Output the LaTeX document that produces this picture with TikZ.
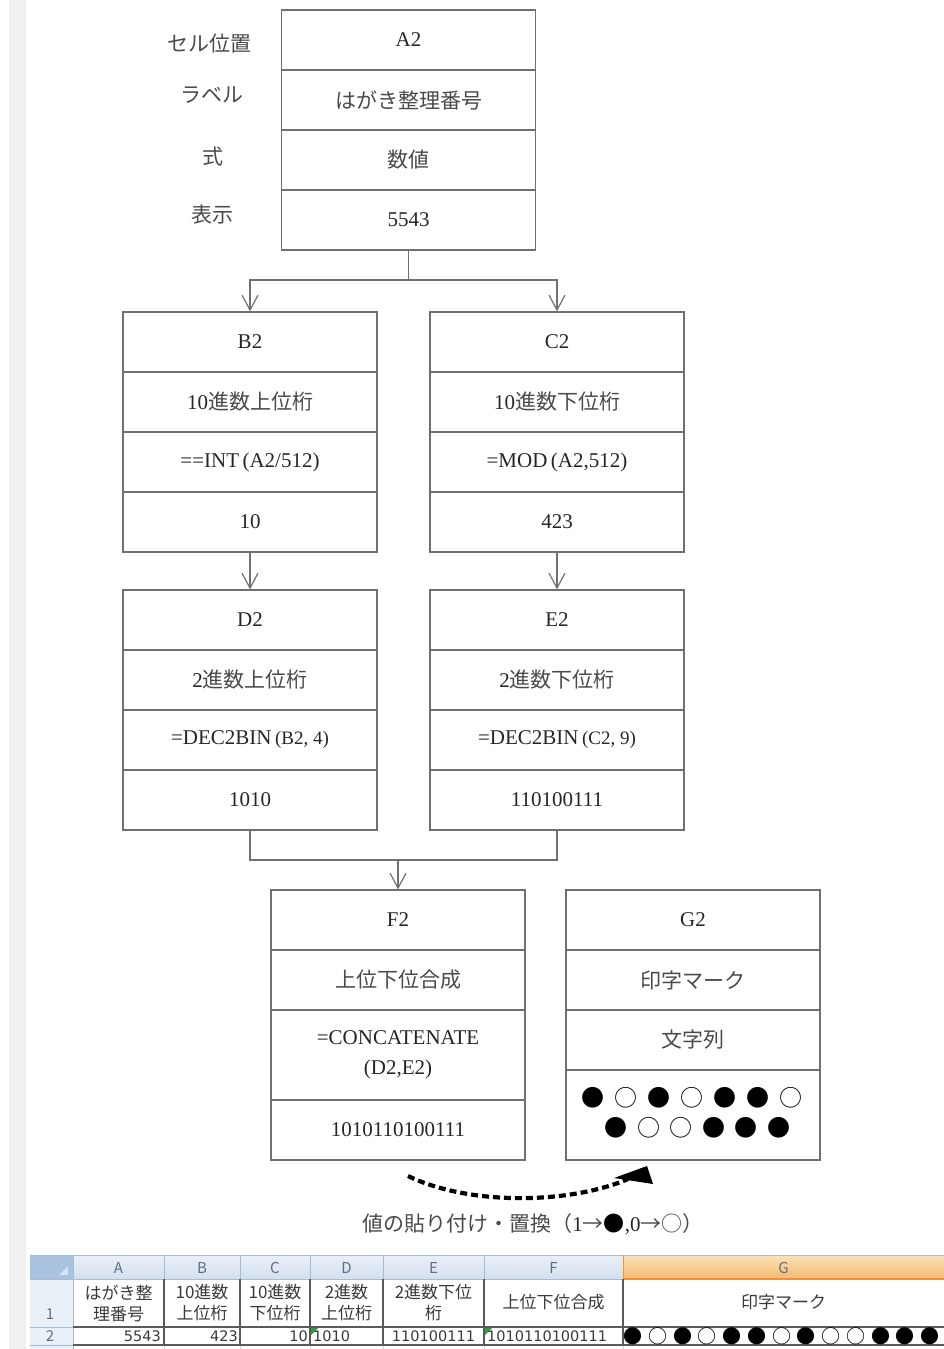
\documentclass[tikz,border=0pt]{standalone}
\usepackage{fontspec}
\setmainfont{Liberation Serif}
\newfontfamily\jp{Noto Sans CJK JP}
\newfontfamily\dv{DejaVu Sans}
\usetikzlibrary{arrows.meta,calc}
\definecolor{linec}{HTML}{707070}
\definecolor{txt}{HTML}{262626}
\definecolor{jptxt}{HTML}{4A4A4A}
\definecolor{strip}{HTML}{F0F0F0}
\definecolor{hdrA}{HTML}{EAF0F8}
\definecolor{hdrB}{HTML}{D3DFEE}
\definecolor{hdrline}{HTML}{A5BCD5}
\definecolor{corner}{HTML}{A9C2E0}
\definecolor{orangeA}{HTML}{FCE1B8}
\definecolor{orangeB}{HTML}{F4BA72}
\definecolor{orangeLine}{HTML}{F29436}
\definecolor{sstxt}{HTML}{3A3A3A}
\definecolor{colhdr}{HTML}{5E6E84}
\definecolor{cellb}{HTML}{5A5A5A}
\definecolor{xlgreen}{HTML}{2E9E3E}
\newcommand\latf{\fontsize{21}{25}\selectfont}
\newcommand\jpf{\jp\fontsize{21}{25}\selectfont\color{jptxt}}
\newcommand\cb[2]{\makebox[#1]{#2}}
\begin{document}
\begin{tikzpicture}[x=1pt,y=-1pt,
  cell/.style={draw=linec, line width=1.2pt, minimum width=254pt, minimum height=60pt,
    inner sep=0pt, align=center, text=txt, font=\latf},
  lbl/.style={inner sep=0pt, font=\jpf},
  arr/.style={draw=linec, line width=1.2pt, -{Straight Barb[length=15pt,width=16pt]}},
  conn/.style={draw=linec, line width=1.2pt},
  pastearr/.style={draw=black, line width=4.2pt, dash pattern=on 7pt off 4pt},
  sst/.style={inner sep=0pt, font=\jp\fontsize{17}{21}\selectfont, text=sstxt, align=center},
  colh/.style={inner sep=0pt, font=\jp\fontsize{15}{16}\selectfont, text=colhdr},
  val/.style={inner sep=0pt, font=\dv\fontsize{14.5}{16}\selectfont, text=sstxt}
]
\useasboundingbox (0,0) rectangle (944,1349);
\fill[white] (0,0) rectangle (944,1349);
\fill[strip] (9,0) rectangle (26,1349);

% left labels
\node[lbl] (lcell) at (209,44) {セル位置};
\node[lbl] (llabel) at (212,95) {ラベル};
\node[lbl] (lexpr) at (213,157) {式};
\node[lbl] (lshow) at (212,215) {表示};

% A2
\node[cell] (a1) at (408.5,40) {A2};
\node[cell] (a2) at (408.5,100) {\jpf はがき整理番号};
\node[cell] (a3) at (408.5,160) {\jpf 数値};
\node[cell] (a4) at (408.5,220) {5543};

% B2
\node[cell] (b1) at (250,342) {B2};
\node[cell] (b2) at (250,402) {10{\jpf 進数上位桁}};
\node[cell] (b3) at (250,462) {==INT\,(A2/512)};
\node[cell] (b4) at (250,522) {10};

% C2
\node[cell] (c1) at (557,342) {C2};
\node[cell] (c2) at (557,402) {10{\jpf 進数下位桁}};
\node[cell] (c3) at (557,462) {=MOD\,(A2,512)};
\node[cell] (c4) at (557,522) {423};

% D2
\node[cell] (d1) at (250,620) {D2};
\node[cell] (d2) at (250,680) {2{\jpf 進数上位桁}};
\node[cell] (d3) at (250,740) {=DEC2BIN\,{\fontsize{19}{20}\selectfont(B2, 4)}};
\node[cell] (d4) at (250,800) {1010};

% E2
\node[cell] (e1) at (557,620) {E2};
\node[cell] (e2) at (557,680) {2{\jpf 進数下位桁}};
\node[cell] (e3) at (557,740) {=DEC2BIN\,{\fontsize{19}{20}\selectfont(C2, 9)}};
\node[cell] (e4) at (557,800) {110100111};

% F2
\node[cell] (f1) at (398,920) {F2};
\node[cell] (f2) at (398,980) {\jpf 上位下位合成};
\node[cell, minimum height=90pt, font=\fontsize{21}{30}\selectfont] (f3) at (398,1055) {=CONCATENATE\\(D2,E2)};
\node[cell] (f4) at (398,1130) {1010110100111};

% G2
\node[cell] (g1) at (693,920) {G2};
\node[cell] (g2) at (693,980) {\jpf 印字マーク};
\node[cell] (g3) at (693,1040) {\jpf 文字列};
\node[cell, minimum height=90pt] (g4) at (693,1115) {};
\node[inner sep=0pt, font=\jp\fontsize{23}{24}\selectfont] (g4r1) at (692,1098)
  {\cb{33pt}{●}\cb{33pt}{○}\cb{33pt}{●}\cb{33pt}{○}\cb{33pt}{●}\cb{33pt}{●}\cb{33pt}{○}};
\node[inner sep=0pt, font=\jp\fontsize{23}{24}\selectfont] (g4r2) at (697.5,1128)
  {\cb{32.6pt}{●}\cb{32.6pt}{○}\cb{32.6pt}{○}\cb{32.6pt}{●}\cb{32.6pt}{●}\cb{32.6pt}{●}};

% connectors
\coordinate (split) at (408.5,280);
\coordinate (merge) at (398,860);
\draw[conn] (a4.south) -- (split);
\draw[arr] (split) -| (b1.north);
\draw[arr] (split) -| (c1.north);
\draw[arr] (b4.south) -- (d1.north);
\draw[arr] (c4.south) -- (e1.north);
\draw[conn] (d4.south) |- (merge);
\draw[conn] (e4.south) |- (merge);
\draw[arr] (merge) -- (f1.north);

% paste arrow
\coordinate (pS) at (408,1176);
\coordinate (pE) at (628,1179);
\draw[pastearr] (pS) .. controls (470,1206) and (570,1204) .. (pE);
\fill[black] (614,1178) -- (647,1166) -- (653,1184) -- cycle;
\node[inner sep=0pt, font=\latf, text=txt] (pcap) at (533,1224)
  {{\jpf 値の貼り付け・置換（}1{\jpf →{\color{black}●}}{,}0{\jpf →○）}};

% spreadsheet
\fill[top color=hdrA, bottom color=hdrB] (73,1255) rectangle (623,1279);
\fill[top color=orangeA, bottom color=orangeB] (623,1255) rectangle (944,1279);
\fill[corner] (30,1255) rectangle (73,1279);
\fill[white!55!corner] (68,1266) -- (68,1275) -- (59,1275) -- cycle;
\fill[hdrA] (30,1279) rectangle (73,1349);
\draw[hdrline, line width=1pt] (30,1255) -- (944,1255);
\foreach \xx in {73,164,240,310,383,484} \draw[hdrline, line width=1pt] (\xx,1255) -- (\xx,1279);
\draw[orangeLine, line width=1pt] (623,1255) -- (623,1279);
\draw[hdrline, line width=1pt] (30,1279) -- (623,1279);
\draw[orangeLine, line width=2pt] (623,1279) -- (944,1279);
\draw[hdrline, line width=1pt] (73,1255) -- (73,1349);
\draw[hdrline, line width=1pt] (30,1327) -- (73,1327);
\draw[hdrline, line width=1pt] (30,1345) -- (73,1345);
\foreach \xx in {164,240,310,383,484,623} \draw[hdrline!60, line width=1pt] (\xx,1345) -- (\xx,1349);
% data borders
\foreach \xx in {164,240,310,383,484,623} \draw[cellb, line width=1.5pt] (\xx,1279) -- (\xx,1345);
\draw[cellb, line width=2pt] (73,1327) -- (944,1327);
\draw[cellb, line width=2pt] (73,1345) -- (944,1345);
\fill[xlgreen] (311,1328) -- (318,1328) -- (311,1335) -- cycle;
\fill[xlgreen] (485,1328) -- (492,1328) -- (485,1335) -- cycle;

% column letters
\node[colh] (hA) at (118.5,1268) {A};
\node[colh] (hB) at (202,1268) {B};
\node[colh] (hC) at (275,1268) {C};
\node[colh] (hD) at (346.5,1268) {D};
\node[colh] (hE) at (433.5,1268) {E};
\node[colh] (hF) at (553.5,1268) {F};
\node[colh] (hG) at (783.5,1268) {G};
\node[colh] (r1) at (50,1314) {1};
\node[colh] (r2) at (50,1336) {2};

% row 1
\node[sst] (sA1) at (118.5,1303) {はがき整\\理番号};
\node[sst] (sB1) at (202,1303) {10進数\\上位桁};
\node[sst] (sC1) at (275,1303) {10進数\\下位桁};
\node[sst] (sD1) at (346.5,1303) {2進数\\上位桁};
\node[sst] (sE1) at (433.5,1303) {2進数下位\\桁};
\node[sst] (sF1) at (553.5,1302) {上位下位合成};
\node[sst] (sG1) at (783.5,1302) {印字マーク};

% row 2
\node[val, anchor=east] (sA2) at (161,1336) {5543};
\node[val, anchor=east] (sB2) at (238,1336) {423};
\node[val, anchor=east] (sC2) at (308,1336) {10};
\node[val, anchor=west] (sD2) at (313,1336) {1010};
\node[val] (sE2) at (433.5,1336) {110100111};
\node[val, anchor=west] (sF2) at (487,1336) {1010110100111};
\node[inner sep=0pt, anchor=west, font=\jp\fontsize{19}{20}\selectfont, text=black] (sG2) at (620.6,1336)
  {\cb{24.75pt}{●}\cb{24.75pt}{○}\cb{24.75pt}{●}\cb{24.75pt}{○}\cb{24.75pt}{●}\cb{24.75pt}{●}\cb{24.75pt}{○}\cb{24.75pt}{●}\cb{24.75pt}{○}\cb{24.75pt}{○}\cb{24.75pt}{●}\cb{24.75pt}{●}\cb{24.75pt}{●}};
\end{tikzpicture}
\end{document}
